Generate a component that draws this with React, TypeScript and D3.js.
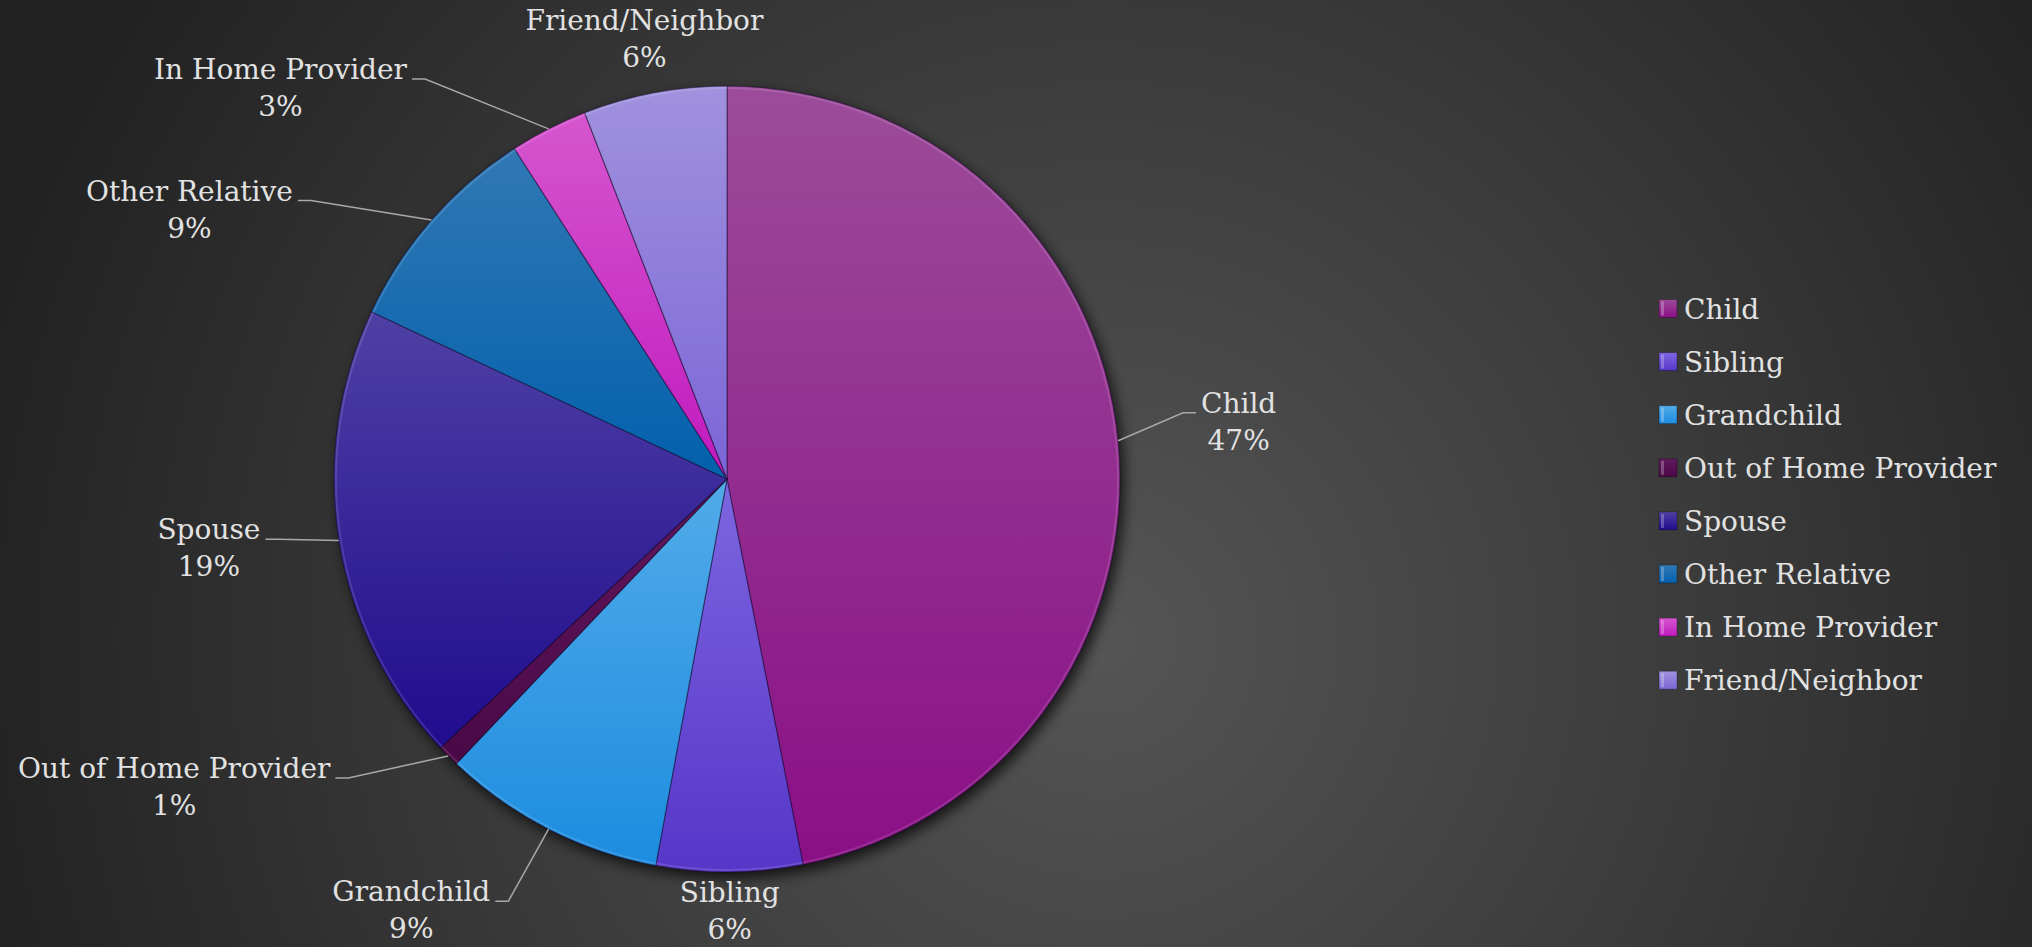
import React, { useEffect, useRef } from 'react';
import * as d3 from 'd3';

// ---- data ----
const categories = [
  'Child',
  'Sibling',
  'Grandchild',
  'Out of Home Provider',
  'Spouse',
  'Other Relative',
  'In Home Provider',
  'Friend/Neighbor',
];
const shares = [46.9, 6.0, 9.2, 0.9, 19.0, 8.9, 3.2, 5.9];

// ---- styling (colours per slice: light top / darker bottom) ----
const topColors = ['#9c4c9a', '#7d66e0', '#52abe8', '#62195e', '#4f40a4', '#3078b4', '#d656ce', '#a092de'];
const bottomColors = ['#8a0f86', '#5636c8', '#1c8ce0', '#4a0846', '#200c8e', '#0360ac', '#c01abe', '#7a66d6'];

// label placement: angular shift (deg) from slice mid-angle, distance in radii
const labelShift = [-0.8, 0, 9.2, 15.7, 1.4, -14.6, -21.8, 0];
const labelDist = [1.31, 1.1, 1.36, 1.61, 1.33, 1.53, 1.51, 1.14];

const W = 2032;
const H = 947;
const CX = 727;
const CY = 479;
const R = 393;
const FONT = '"DejaVu Serif", serif';
const FS = 28;
const TEXT = '#e2e2e2';

export default function App() {
  const ref = useRef<SVGSVGElement>(null);

  useEffect(() => {
    document.body.style.margin = '0';
    const svg = d3.select(ref.current);
    svg.selectAll('*').remove();
    const defs = svg.append('defs');

    const bg = defs
      .append('radialGradient')
      .attr('id', 'bg')
      .attr('gradientUnits', 'userSpaceOnUse')
      .attr('cx', 1100)
      .attr('cy', 640)
      .attr('r', 1150);
    bg.append('stop').attr('offset', 0).attr('stop-color', '#555555');
    bg.append('stop').attr('offset', 0.5).attr('stop-color', '#3c3c3c');
    bg.append('stop').attr('offset', 1).attr('stop-color', '#222222');
    svg.append('rect').attr('width', W).attr('height', H).attr('fill', 'url(#bg)');

    categories.forEach((_, i) => {
      const g = defs
        .append('linearGradient')
        .attr('id', `g${i}`)
        .attr('x1', 0)
        .attr('y1', 0)
        .attr('x2', 0)
        .attr('y2', 1);
      g.append('stop').attr('offset', 0).attr('stop-color', topColors[i]);
      g.append('stop').attr('offset', 1).attr('stop-color', bottomColors[i]);
    });

    const shadow = defs
      .append('filter')
      .attr('id', 'shadow')
      .attr('x', '-20%')
      .attr('y', '-20%')
      .attr('width', '140%')
      .attr('height', '140%');
    shadow
      .append('feDropShadow')
      .attr('dx', 4)
      .attr('dy', 6)
      .attr('stdDeviation', 7)
      .attr('flood-color', '#000')
      .attr('flood-opacity', 0.75);

    const pie = d3
      .pie<number>()
      .sort(null)
      .value((d) => d);
    const arcs = pie(shares);
    const arc = d3.arc<d3.PieArcDatum<number>>().innerRadius(0).outerRadius(R);
    const total = d3.sum(shares);

    const pg = svg.append('g').attr('transform', `translate(${CX},${CY})`);
    pg.append('circle').attr('r', R).attr('fill', '#333').attr('filter', 'url(#shadow)');
    pg.selectAll('path.slice')
      .data(arcs)
      .join('path')
      .attr('class', 'slice')
      .attr('d', arc)
      .attr('fill', (_, i) => `url(#g${i})`)
      .attr('stroke', 'rgba(20,0,40,0.45)')
      .attr('stroke-width', 1.2)
      .attr('stroke-linejoin', 'round');
    // subtle inner rim highlight
    const rim = d3.arc<d3.PieArcDatum<number>>().innerRadius(R - 3).outerRadius(R - 1);
    pg.selectAll('path.rim')
      .data(arcs)
      .join('path')
      .attr('class', 'rim')
      .attr('d', rim)
      .attr('fill', 'rgba(255,255,255,0.12)');

    const polar = (a: number, r: number): [number, number] => [CX + r * Math.sin(a), CY - r * Math.cos(a)];

    const lg = svg.append('g');
    arcs.forEach((a, i) => {
      const mid = (a.startAngle + a.endAngle) / 2;
      const [lx, ly] = polar(mid + (labelShift[i] * Math.PI) / 180, R * labelDist[i]);
      const pct = `${Math.round((a.value / total) * 100)}%`;
      const t = lg
        .append('text')
        .attr('font-family', FONT)
        .attr('font-size', FS)
        .attr('fill', TEXT)
        .attr('text-anchor', 'middle');
      const l1 = t.append('tspan').attr('x', lx).attr('y', ly - 9).text(categories[i]);
      t.append('tspan').attr('x', lx).attr('y', ly + 28).text(pct);
      if (labelDist[i] > 1.2) {
        const w = (l1.node() as SVGTSpanElement).getComputedTextLength();
        const [px, py] = polar(mid, R);
        const y = ly - 9;
        const left = lx < px;
        const x0 = left ? lx + w / 2 + 5 : lx - w / 2 - 5;
        const x1 = left ? x0 + 13 : x0 - 13;
        lg.append('path')
          .attr('d', d3.line()([[x0, y], [x1, y], [px, py]]))
          .attr('fill', 'none')
          .attr('stroke', '#a8a8a8')
          .attr('stroke-width', 1.5);
      }
    });

    const legend = svg.append('g');
    categories.forEach((c, i) => {
      const cy = 308.5 + i * 53.1;
      legend
        .append('rect')
        .attr('x', 1659)
        .attr('y', cy - 9)
        .attr('width', 18)
        .attr('height', 18)
        .attr('fill', `url(#g${i})`)
        .attr('stroke', 'rgba(0,0,0,0.35)')
        .attr('stroke-width', 0.8);
      legend
        .append('rect')
        .attr('x', 1661)
        .attr('y', cy - 7)
        .attr('width', 3)
        .attr('height', 14)
        .attr('fill', 'rgba(255,255,255,0.25)');
      legend
        .append('text')
        .attr('x', 1684)
        .attr('y', cy + 10)
        .attr('font-family', FONT)
        .attr('font-size', FS)
        .attr('fill', TEXT)
        .text(c);
    });
  }, []);

  return <svg ref={ref} width={W} height={H} style={{ display: 'block' }} />;
}
